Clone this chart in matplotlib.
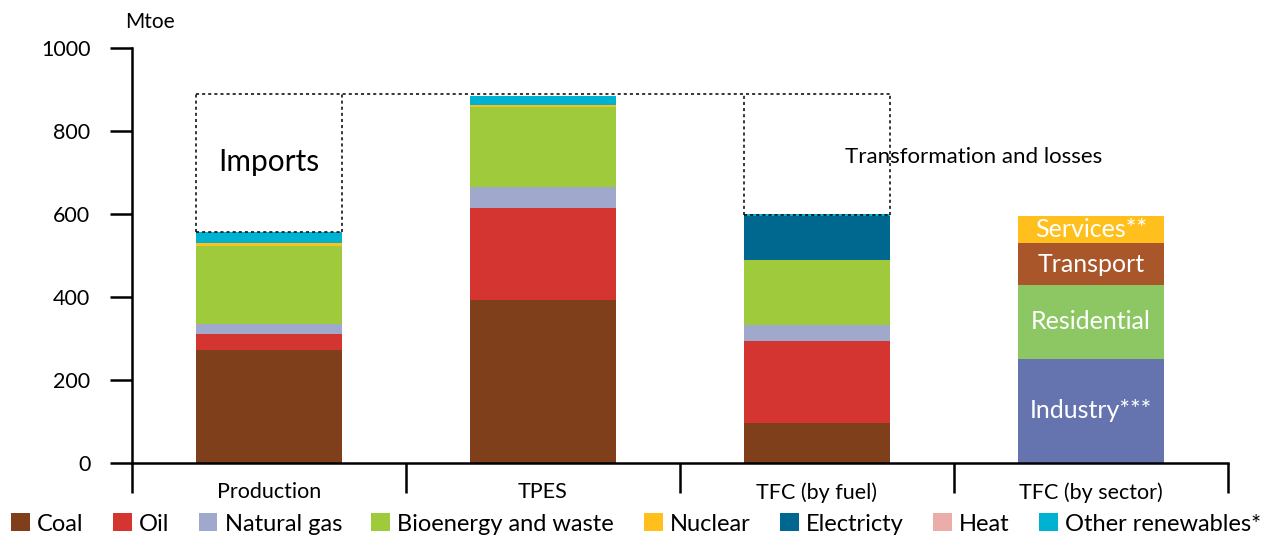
import matplotlib
matplotlib.use("Agg")
import matplotlib.pyplot as plt
from matplotlib.patches import Patch
import numpy as np

plt.rcParams['font.family'] = ['Lato', 'DejaVu Sans']

categories = ["Production", "TPES", "TFC (by fuel)", "TFC (by sector)"]

fuels = ["Coal", "Oil", "Natural gas", "Bioenergy and waste", "Nuclear",
         "Electricty", "Heat", "Other renewables*"]
fuel_colors = ["#7F3F1A", "#D43530", "#A0A8CC", "#9FCA3C", "#FFC01E",
               "#00688E", "#EAADA9", "#00B2D2"]

# values for Production, TPES, TFC (by fuel)
coal = [272, 393, 96]
oil = [39, 221, 198]
natural_gas = [24, 51, 38]
bioenergy = [189, 193, 157]
nuclear = [6, 5, 0]
electricity = [0, 0, 107]
heat = [0, 0, 0]
other_renewables = [27, 21, 5]
fuel_values = [coal, oil, natural_gas, bioenergy, nuclear, electricity, heat, other_renewables]

sectors = ["Industry***", "Residential", "Transport", "Services**"]
sector_values = [251, 178, 101, 65]
sector_colors = ["#6574AF", "#8CC764", "#A9562A", "#FFC01E"]

imports_top = 888          # top of the imports / transformation boxes
transformation_bottom = 598

fig = plt.figure(figsize=(12.72, 5.40), dpi=100)
ax = fig.add_axes([132/1272, 77/540, 1096/1272, 415/540])

x = np.arange(len(categories))
w = 0.53

bottom = np.zeros(3)
for vals, col in zip(fuel_values, fuel_colors):
    ax.bar(x[:3], vals, w, bottom=bottom, color=col, linewidth=0, zorder=2)
    bottom += np.array(vals)

sb = 0
for v, col, name in zip(sector_values, sector_colors, sectors):
    ax.bar(x[3], v, w, bottom=sb, color=col, linewidth=0, zorder=2)
    ax.text(x[3], sb + v/2, name, ha='center', va='center', color='white', fontsize=18, zorder=3)
    sb += v

prod_total = bottom[0]
dash = dict(color='black', linestyle=(0, (2, 2)), linewidth=1.1, zorder=4)
l0, r0 = x[0] - w/2, x[0] + w/2
l2, r2 = x[2] - w/2, x[2] + w/2
ax.plot([l0, r2], [imports_top, imports_top], **dash)
ax.plot([l0, l0], [prod_total, imports_top], **dash)
ax.plot([r0, r0], [prod_total, imports_top], **dash)
ax.plot([l0, r0], [prod_total, prod_total], **dash)
ax.plot([l2, l2], [transformation_bottom, imports_top], **dash)
ax.plot([r2, r2], [transformation_bottom, imports_top], **dash)
ax.plot([l2, r2], [transformation_bottom, transformation_bottom], **dash)

ax.text(x[0], (prod_total + imports_top)/2 + 2, "Imports", ha='center', va='center', fontsize=21.5)
ax.text(2.57, 738, "Transformation and losses", ha='center', va='center', fontsize=16)

ax.set_xlim(-0.5, 3.5)
ax.set_ylim(0, 1000)
ax.set_yticks(range(0, 1001, 200))
ax.tick_params(axis='y', direction='out', length=16, width=1.8, pad=14, labelsize=15.5)
ax.set_xticks([-0.5, 0.5, 1.5, 2.5, 3.5])
ax.set_xticklabels([])
ax.set_xticks(x, minor=True)
ax.set_xticklabels(categories, minor=True, fontsize=15.5)
ax.tick_params(axis='x', which='major', direction='out', length=21.6, width=1.8)
ax.tick_params(axis='x', which='minor', length=0, pad=14)
for s in ['top', 'right']:
    ax.spines[s].set_visible(False)
ax.spines['left'].set_linewidth(1.8)
ax.spines['bottom'].set_linewidth(1.8)
ax.spines['left'].set_zorder(5)

fig.text(150/1272, 1 - 22/540, "Mtoe", ha='center', va='center', fontsize=15)

handles = [Patch(facecolor=c, edgecolor='none') for c in fuel_colors]
fig.legend(handles, fuels, loc='center', bbox_to_anchor=(0.5, 1 - 524/540), ncol=8,
           frameon=False, fontsize=17, handlelength=0.8, handleheight=0.8,
           handletextpad=0.3, columnspacing=1.25, borderaxespad=0)

fig.savefig("out.png", dpi=100)
